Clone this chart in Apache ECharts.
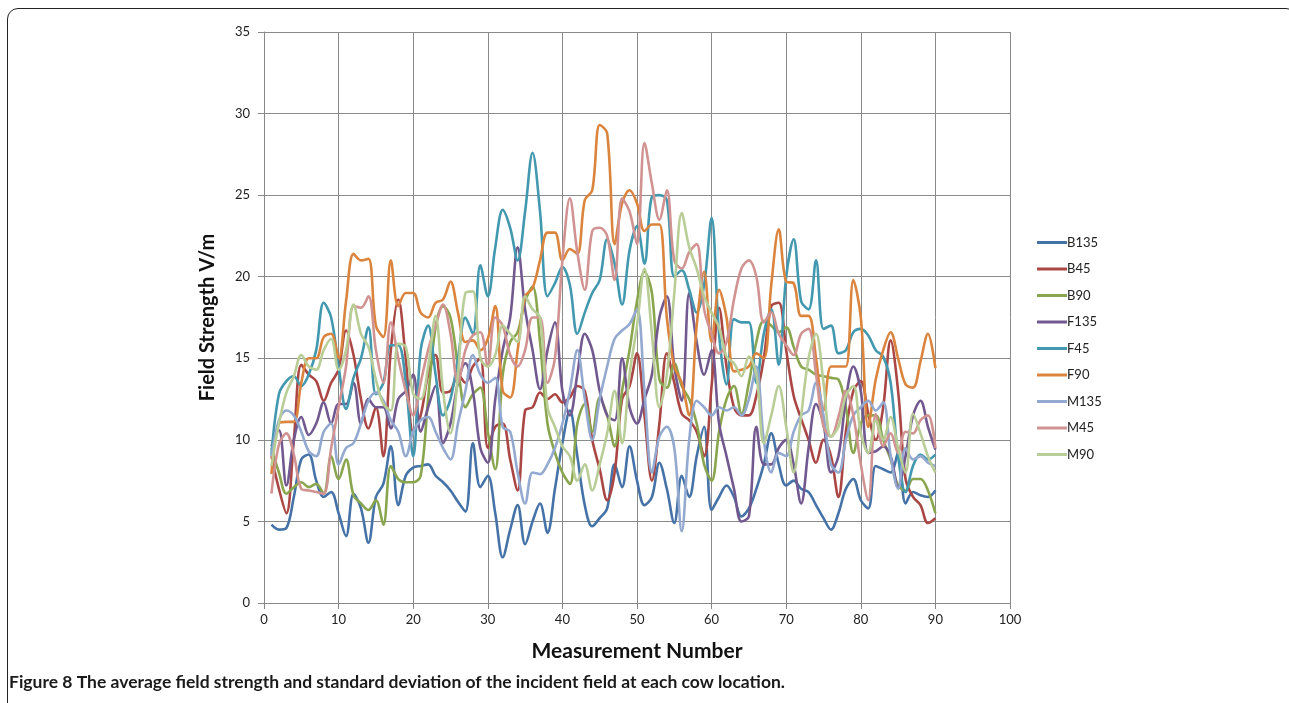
<!DOCTYPE html>
<html><head><meta charset="utf-8">
<script src="https://cdn.jsdelivr.net/npm/echarts@6/dist/echarts.min.js"></script>
<style>
html,body{margin:0;padding:0;background:#fff;overflow:hidden;}
#frame{position:absolute;left:7px;top:8px;width:1290px;height:730px;border:1.6px solid #222;border-radius:11px;box-sizing:border-box;}
#c{position:absolute;left:0;top:0;width:1289px;height:703px;}
</style></head>
<body>
<div id="frame"></div>
<div id="c"></div>
<script>
const names = ['B135','B45','B90','F135','F45','F90','M135','M45','M90'];
const colors = ['#4572A7','#AA4643','#89A54E','#71588F','#4198AF','#DB843D','#93A9CF','#D19392','#B9CD96'];
const xTicks = [0,10,20,30,40,50,60,70,80,90,100];
const yTicks = [0,5,10,15,20,25,30,35];

const B135 = [4.8,4.5,4.6,6.5,8.8,9.1,7.5,6.5,6.8,5.5,4.1,6.7,5.8,3.7,6.5,7.3,9.6,6.0,7.8,8.3,8.4,8.5,7.8,7.4,6.9,6.2,5.6,9.8,7.1,7.8,5.5,2.8,4.5,6.0,3.6,5.0,6.1,4.3,7.0,9.8,11.8,9.0,6.0,4.7,5.2,5.8,8.5,7.1,9.6,7.5,6.0,6.5,8.6,7.0,4.9,7.8,6.5,9.0,10.8,5.7,6.5,7.2,6.5,5.3,5.8,7.0,8.5,10.4,8.5,7.2,7.5,7.0,6.8,6.0,5.2,4.5,5.5,7.0,7.6,6.3,5.8,8.4,8.2,8.0,9.2,6.1,6.8,6.6,6.5,6.9];
const B45 = [9.0,7.0,5.5,10.0,14.6,14.0,13.6,12.4,13.5,14.3,16.7,15.2,12.5,10.7,12.0,9.0,15.5,18.6,15.0,10.5,11.5,14.0,15.2,12.9,13.0,14.0,13.5,14.5,15.0,9.5,10.8,11.0,8.8,6.9,11.8,12.0,12.9,12.5,12.8,12.3,12.6,13.3,13.0,10.0,8.2,6.3,8.0,12.5,13.3,15.3,11.5,7.5,11.0,15.3,13.5,11.6,11.2,10.5,9.0,13.3,18.1,14.5,12.0,11.5,11.5,12.7,15.0,18.2,18.4,15.5,12.7,11.3,10.0,8.6,10.0,9.0,6.5,10.5,13.0,13.6,11.6,10.0,12.0,16.1,13.0,7.6,6.5,6.0,4.9,5.2];
const B90 = [9.5,8.0,6.7,7.1,7.4,7.1,7.3,6.7,9.0,7.6,8.8,6.6,6.1,5.7,6.3,4.8,8.4,7.6,7.4,7.4,7.8,12.5,16.9,18.2,17.5,14.5,12.0,12.8,13.2,10.5,8.2,14.0,16.0,16.6,18.5,19.4,16.0,11.0,9.2,8.0,7.3,11.0,12.2,10.5,12.6,11.5,9.6,13.0,15.5,18.5,20.3,19.0,13.7,13.2,14.7,13.3,12.5,11.0,8.5,7.5,10.5,12.5,13.3,11.6,13.5,16.0,17.3,17.0,16.6,16.9,15.7,14.5,14.3,14.0,13.9,13.8,13.7,12.0,9.2,11.0,11.5,11.5,10.0,8.8,7.2,6.9,7.6,7.6,6.9,5.5];
const F135 = [9.6,10.6,7.2,10.0,11.4,10.3,11.0,12.3,11.0,12.2,12.2,13.5,11.0,12.5,12.0,12.0,10.7,12.5,13.0,14.0,10.5,12.0,13.3,9.8,11.0,13.5,14.7,13.0,9.5,8.6,12.5,15.5,17.5,21.8,18.0,15.5,13.1,15.5,17.2,13.0,11.5,14.0,16.5,15.5,13.0,11.5,11.2,15.0,12.0,11.0,12.5,14.0,17.5,18.8,14.5,12.4,19.0,16.0,14.0,15.5,11.0,9.0,7.0,5.0,5.3,10.8,8.5,8.5,9.5,10.0,8.5,6.1,9.5,12.2,11.0,8.0,9.0,12.5,14.5,13.0,9.2,9.3,9.6,9.0,7.1,9.0,11.5,12.4,10.8,9.4];
const F45 = [9.1,12.8,13.6,13.9,13.3,14.0,15.5,18.4,17.5,14.5,11.9,13.8,15.0,16.9,12.8,13.5,15.8,15.8,13.5,9.0,15.5,17.0,14.0,11.5,12.5,15.0,17.5,16.5,20.7,18.8,21.8,24.1,23.0,21.0,24.0,27.6,24.0,18.8,19.6,20.6,19.5,16.5,17.8,19.0,19.8,22.3,20.8,18.3,21.6,23.1,20.8,24.9,25.0,24.7,20.0,20.4,19.2,17.8,19.5,23.6,16.5,13.4,17.4,17.2,17.2,13.5,16.5,18.0,14.6,20.0,22.3,18.5,18.0,21.0,16.8,17.0,15.3,15.5,16.6,16.8,16.4,15.5,15.1,13.5,9.0,6.8,8.4,9.1,8.8,9.1];
const F90 = [7.9,11.0,11.1,11.1,13.5,15.0,15.0,16.3,16.5,15.0,18.5,21.4,21.0,21.1,17.0,16.3,21.0,18.2,19.0,19.0,17.8,17.5,18.4,18.6,19.7,17.8,16.0,16.1,15.5,16.2,18.2,13.0,12.6,15.5,18.8,19.3,21.0,22.7,22.7,21.0,21.7,21.4,24.7,25.3,29.3,28.8,22.0,24.5,25.3,24.5,22.8,23.2,23.2,17.5,14.5,13.5,11.5,17.0,20.3,16.0,19.2,17.5,14.2,14.3,14.5,15.3,15.0,19.5,22.9,19.7,19.6,17.6,17.6,15.0,11.8,14.5,14.5,14.5,19.8,17.5,10.8,13.7,15.5,16.6,15.0,13.4,13.2,14.8,16.5,14.4];
const M135 = [9.0,11.2,11.8,11.5,10.5,9.3,9.0,10.5,11.0,8.5,9.5,9.8,11.0,12.4,12.9,12.4,11.2,10.5,9.0,10.5,11.2,11.4,10.5,9.5,8.8,11.0,13.0,15.2,14.0,13.5,13.8,10.8,10.5,8.0,6.1,8.0,7.9,8.5,9.5,11.0,13.0,15.5,12.5,10.0,12.5,14.5,16.2,16.7,17.1,18.0,13.0,8.0,10.2,10.8,9.5,4.4,10.0,12.4,12.0,11.5,12.0,11.8,12.0,11.5,12.5,14.5,10.0,8.0,9.2,9.0,10.5,11.5,11.8,13.5,11.5,8.5,8.0,10.0,11.5,12.0,12.4,11.8,12.3,9.0,7.0,9.5,8.8,9.0,8.6,8.4];
const M45 = [6.7,9.7,10.4,9.1,7.0,6.9,6.8,6.7,9.5,12.0,14.5,18.2,18.1,18.8,15.5,13.5,17.2,15.0,13.0,11.5,13.5,15.5,17.0,18.3,16.5,13.5,15.5,16.4,16.6,14.5,17.5,17.0,15.2,14.5,15.5,17.5,17.5,13.5,15.0,21.0,24.8,21.5,19.2,22.8,23.0,22.5,19.8,24.8,24.0,22.0,28.2,25.7,23.5,25.3,21.0,20.5,21.5,22.0,18.0,16.5,15.3,16.0,18.6,20.5,21.0,20.0,17.2,17.8,16.5,15.8,15.2,16.5,16.8,14.0,10.8,10.2,11.4,13.0,11.5,8.5,6.3,11.6,9.6,10.4,9.2,10.5,10.4,11.2,11.5,9.5];
const M90 = [8.4,11.0,12.9,13.9,15.2,14.5,14.3,15.5,16.2,14.3,15.5,18.3,16.5,15.7,13.7,12.2,11.8,15.9,15.7,12.8,12.5,14.5,17.6,13.0,10.4,14.0,19.0,19.1,15.0,14.5,15.2,17.0,16.5,16.0,18.8,18.0,17.5,12.0,10.8,9.6,9.0,7.5,8.5,6.9,8.5,10.4,13.0,9.8,14.0,17.0,20.5,16.5,12.0,14.0,19.0,23.9,21.8,20.5,18.8,17.8,16.9,15.1,14.7,13.9,15.1,14.0,9.8,11.5,13.3,10.8,8.0,11.5,15.0,16.5,13.5,10.2,10.8,12.7,13.3,10.4,9.2,11.2,10.0,11.4,9.5,8.0,11.6,10.4,9.0,8.0];

const seriesData = [B135,B45,B90,F135,F45,F90,M135,M45,M90];
const FONT = 'Lato, "Open Sans", sans-serif';

const chart = echarts.init(document.getElementById('c'));
chart.setOption({
  animation:false,
  backgroundColor:'transparent',
  color: colors,
  title:{
    text:'Figure 8 The average field strength and standard deviation of the incident field at each cow location.',
    left:4, top:668,
    textStyle:{fontFamily:FONT,fontWeight:'bold',fontSize:17.5,color:'#1a1a1a'}
  },
  legend:{
    orient:'vertical', left:1032, top:231,
    itemWidth:30, itemHeight:14, itemGap:13.5,
    data: names.map(n=>({name:n, icon:'path://M0,6 L30,6 L30,9 L0,9 Z'})),
    textStyle:{fontFamily:FONT,fontSize:13,color:'#222',padding:[0,0,0,-5]}
  },
  grid:{left:264,right:279,top:32,bottom:100,containLabel:false},
  xAxis:{
    type:'value', min:0, max:100, interval:10,
    name:'Measurement Number', nameLocation:'middle', nameGap:38,
    nameTextStyle:{fontFamily:FONT,fontWeight:'bold',fontSize:21,color:'#111'},
    axisLine:{show:true,lineStyle:{color:'#888',width:1}},
    axisTick:{show:true,length:6,lineStyle:{color:'#888'}},
    axisLabel:{fontFamily:FONT,fontSize:13,color:'#222',margin:10},
    splitLine:{show:true,lineStyle:{color:'#8a8a8a',width:1}}
  },
  yAxis:{
    type:'value', min:0, max:35, interval:5,
    name:'Field Strength V/m', nameLocation:'middle', nameGap:46, nameRotate:90,
    nameTextStyle:{fontFamily:FONT,fontWeight:'bold',fontSize:20,color:'#111'},
    axisLine:{show:true,lineStyle:{color:'#888',width:1}},
    axisTick:{show:true,length:6,lineStyle:{color:'#888'}},
    axisLabel:{fontFamily:FONT,fontSize:13,color:'#222',margin:14},
    splitLine:{show:true,lineStyle:{color:'#8a8a8a',width:1}}
  },
  series: names.map((n,i)=>({
    name:n, type:'line', smooth:0.35, symbol:'none',
    lineStyle:{width:2.6,color:colors[i]},
    itemStyle:{color:colors[i]},
    data: seriesData[i].map((v,k)=>[k+1,v])
  }))
});
</script>
</body></html>
